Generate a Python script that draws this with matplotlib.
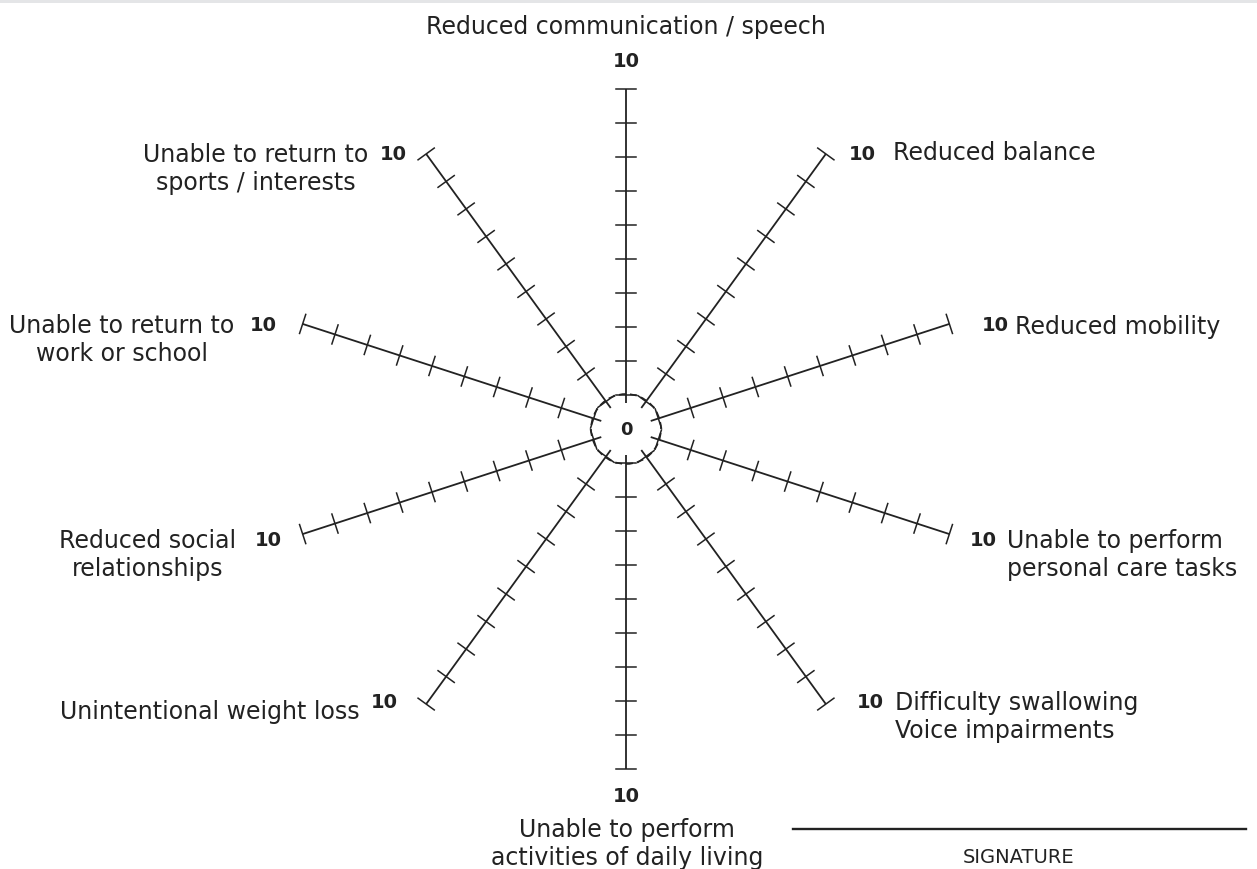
#!/usr/bin/env python3
"""Radial self-rating scale: ten impact spokes scored 0-10."""

import numpy as np
import matplotlib.pyplot as plt
from matplotlib.patches import Circle, Rectangle

plt.rcParams["font.family"] = ["DejaVu Sans"]

# spoke angles in degrees (0 = east, counter-clockwise)
angles = [90, 54, 18, -18, -54, -90, -126, -162, 162, 126]
max_value = 10
tick_values = list(range(1, 11))
center_label = "0"
end_label = "10"

categories = [
    "Reduced communication / speech",
    "Reduced balance",
    "Reduced mobility",
    "Unable to perform\npersonal care tasks",
    "Difficulty swallowing\nVoice impairments",
    "Unable to perform\nactivities of daily living",
    "Unintentional weight loss",
    "Reduced social\nrelationships",
    "Unable to return to\nwork or school",
    "Unable to return to\nsports / interests",
]

W, H = 1257, 870
CX, CY = 626, 430          # centre of the dial in pixels
UNIT = 34                  # pixels per score point
INK = "#222222"


def px(x, y):
    """pixel (from top-left) -> data coords centred on dial"""
    return x - CX, CY - y


fig = plt.figure(figsize=(W / 100, H / 100), dpi=100)
ax = fig.add_axes([0, 0, 1, 1])
ax.set_xlim(-CX, W - CX)
ax.set_ylim(-(H - CY), CY)
ax.set_aspect("equal")
ax.axis("off")

# thin grey strip across the top
ax.add_patch(Rectangle(px(0, 4), W, 4, fc="#e4e5e7", ec="none"))

# spokes with ticks
half = 10
for a in angles:
    t = np.deg2rad(a)
    u = np.array([np.cos(t), np.sin(t)])
    n = np.array([-np.sin(t), np.cos(t)])
    r0, r1 = 26, max_value * UNIT
    ax.plot([u[0] * r0, u[0] * r1], [u[1] * r0, u[1] * r1], color=INK, lw=1.3,
            solid_capstyle="butt")
    for v in tick_values:
        p = u * v * UNIT
        ax.plot([p[0] - n[0] * half, p[0] + n[0] * half],
                [p[1] - n[1] * half, p[1] + n[1] * half], color=INK, lw=1.1)

ax.add_patch(Circle((0, 0), UNIT + 1, fill=False, ec=INK, lw=1.2,
                    ls=(0, (4.2, 2.4))))
ax.text(0, 0, center_label, ha="center", va="center", fontsize=13,
        fontweight="bold", color=INK)

# "10" end labels
ten_pos = [(626, 62), (862, 155), (995, 326), (983, 541), (870, 703),
           (626, 797), (384, 703), (268, 541), (263, 326), (393, 155)]
for x, y in ten_pos:
    ax.text(*px(x, y), end_label, ha="center", va="center", fontsize=14,
            fontweight="bold", color=INK)

# category labels
lab_pos = [
    ((626, 27), "center", "center"),
    ((893, 153), "left", "left"),
    ((1015, 327), "left", "left"),
    ((1007, 555), "left", "left"),
    ((895, 717), "left", "left"),
    ((627, 844), "center", "center"),
    ((360, 712), "right", "right"),
    ((148, 555), "center", "center"),
    ((122, 340), "center", "center"),
    ((256, 169), "center", "center"),
]
for text, ((x, y), ha, ma) in zip(categories, lab_pos):
    ax.text(*px(x, y), text, ha=ha, va="center", multialignment=ma,
            fontsize=17, color=INK, linespacing=1.18)

# signature line
ax.plot([px(793, 0)[0], px(1246, 0)[0]], [px(0, 830)[1]] * 2, color=INK, lw=1.7)
ax.text(*px(1019, 858), "SIGNATURE", ha="center", va="center", fontsize=14,
        color=INK)

fig.savefig("out.png", dpi=100, facecolor="white")
